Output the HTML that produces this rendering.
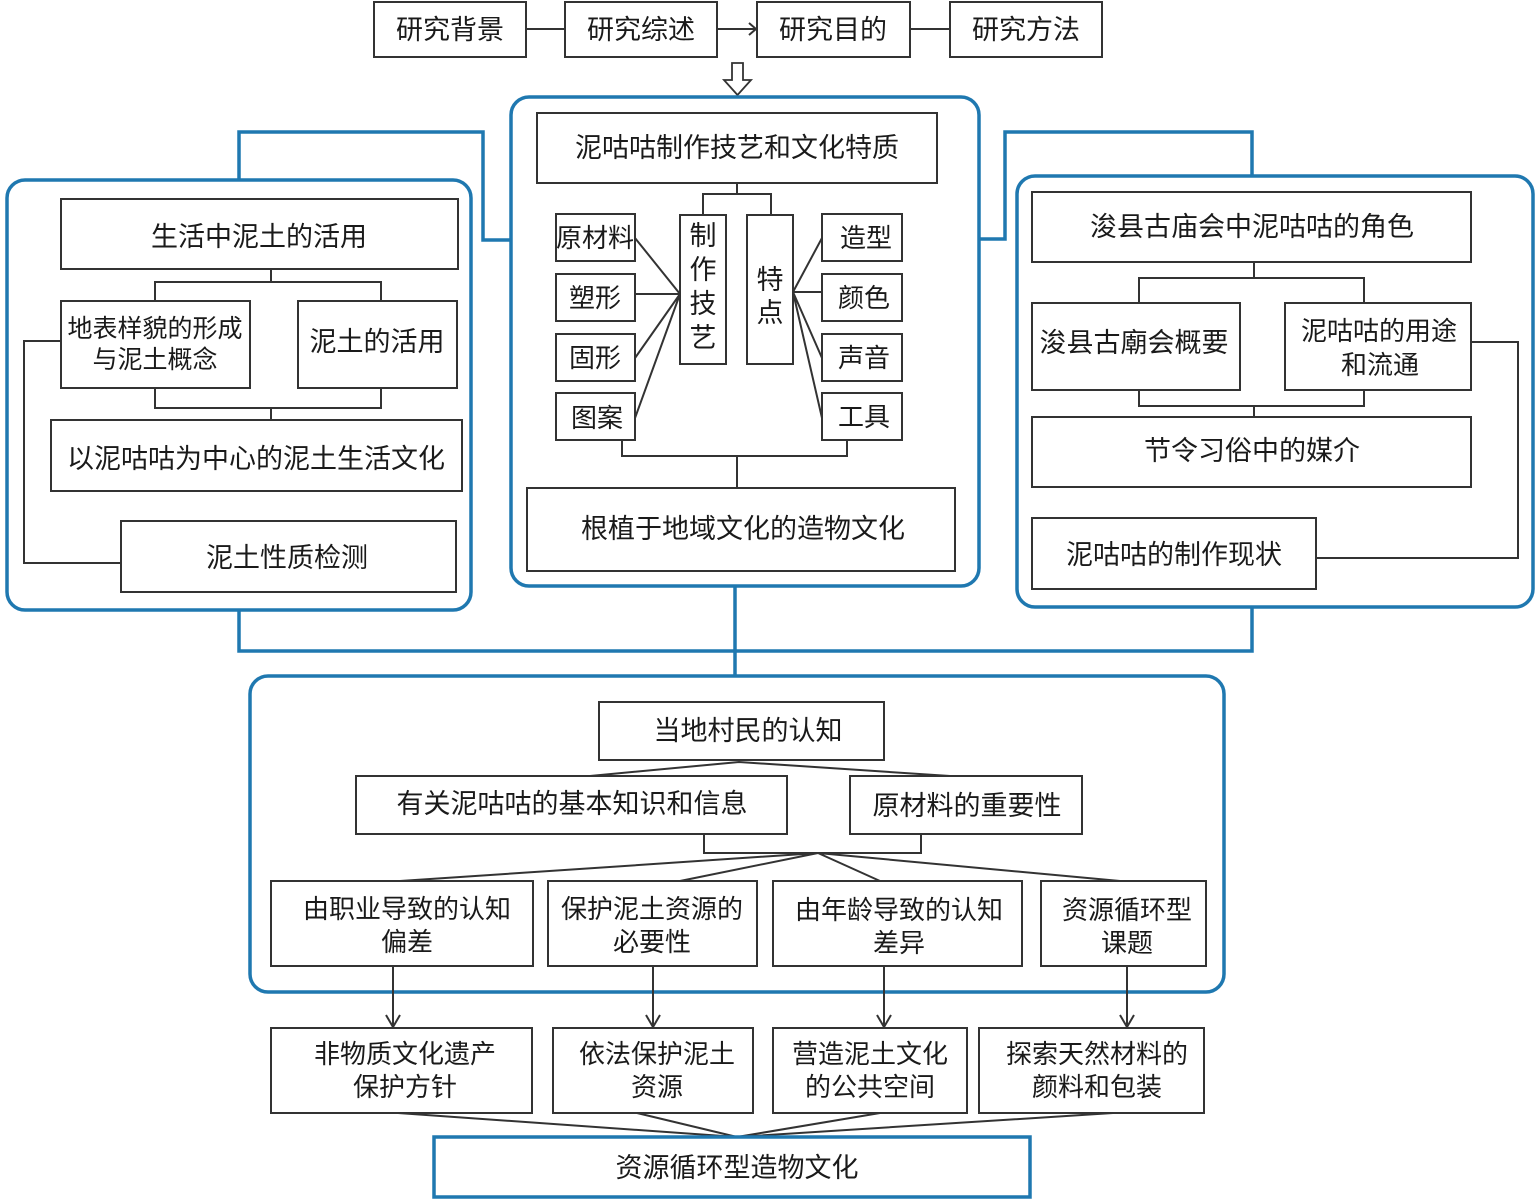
<!DOCTYPE html>
<html><head><meta charset="utf-8"><style>
html,body{margin:0;padding:0;background:#fff;}
svg{display:block;}
text{font-family:"Liberation Sans","Noto Sans CJK SC",sans-serif;fill:#1a1a1a;text-anchor:middle;dominant-baseline:central;}
.b{fill:#fff;stroke:#333;stroke-width:2;}
.l{fill:none;stroke:#333;stroke-width:2;}
.p{fill:none;stroke:#1f78b0;stroke-width:3.5;}
</style></head><body>
<svg width="1536" height="1200" viewBox="0 0 1536 1200" xmlns="http://www.w3.org/2000/svg">

<!-- top row -->
<rect class="b" x="374" y="2" width="152" height="55"/><text x="450" y="30" font-size="27">研究背景</text>
<rect class="b" x="565" y="2" width="152" height="55"/><text x="641" y="30" font-size="27">研究综述</text>
<rect class="b" x="757" y="2" width="153" height="55"/><text x="833" y="30" font-size="27">研究目的</text>
<rect class="b" x="950" y="2" width="152" height="55"/><text x="1026" y="30" font-size="27">研究方法</text>
<line class="l" x1="526" y1="29" x2="565" y2="29"/>
<line class="l" x1="717" y1="29" x2="756" y2="29"/>
<path class="l" d="M749,23 L756,29 L749,35" stroke-width="1.6"/>
<line class="l" x1="910" y1="29" x2="950" y2="29"/>
<path d="M732,63 H743 V80 H751 L737.5,95 L724,80 H732 Z" fill="#fff" stroke="#333" stroke-width="1.8"/>

<!-- blue connectors -->
<path class="p" d="M511,240 H483 V132 H239 V180"/>
<path class="p" d="M979,239 H1005 V132 H1252 V176"/>
<path class="p" d="M239,610 V651 H1252 V607"/>
<line class="p" x1="735" y1="586" x2="735" y2="676"/>

<!-- center panel -->
<rect class="p" x="511" y="97" width="468" height="489" rx="18"/>
<rect class="b" x="537" y="113" width="400" height="70"/><text x="737" y="148" font-size="27">泥咕咕制作技艺和文化特质</text>
<path class="l" d="M737,183 V194 M703,215 V194 H771 V215"/>
<rect class="b" x="680" y="215" width="46" height="149"/>
<text x="703" y="236" font-size="27">制</text><text x="703" y="270" font-size="27">作</text><text x="703" y="304" font-size="27">技</text><text x="703" y="338" font-size="27">艺</text>
<rect class="b" x="747" y="215" width="46" height="149"/>
<text x="770" y="280" font-size="27">特</text><text x="770" y="313" font-size="27">点</text>
<rect class="b" x="556" y="214" width="79" height="47"/><text x="595" y="238" font-size="26">原材料</text>
<rect class="b" x="556" y="274" width="79" height="47"/><text x="595" y="298" font-size="26">塑形</text>
<rect class="b" x="556" y="334" width="79" height="47"/><text x="595" y="358" font-size="26">固形</text>
<rect class="b" x="556" y="393" width="79" height="47"/><text x="597" y="418" font-size="26">图案</text>
<rect class="b" x="822" y="214" width="80" height="47"/><text x="866" y="238" font-size="26">造型</text>
<rect class="b" x="822" y="274" width="80" height="47"/><text x="864" y="298" font-size="26">颜色</text>
<rect class="b" x="822" y="334" width="80" height="47"/><text x="864" y="358" font-size="26">声音</text>
<rect class="b" x="822" y="393" width="80" height="47"/><text x="864" y="417" font-size="26">工具</text>
<path class="l" d="M635,238 L680,294 M635,294 L680,294 M635,358 L680,294 M635,418 L680,294"/>
<path class="l" d="M793,292 L822,238 M793,292 L822,292 M793,292 L822,358 M793,292 L822,418"/>
<path class="l" d="M622,440 V456 H847 V440 M737,456 V488"/>
<rect class="b" x="527" y="488" width="428" height="83"/><text x="743" y="529" font-size="27">根植于地域文化的造物文化</text>

<!-- left panel -->
<rect class="p" x="7" y="180" width="464" height="430" rx="18"/>
<rect class="b" x="61" y="199" width="397" height="70"/><text x="259" y="237" font-size="27">生活中泥土的活用</text>
<path class="l" d="M271,269 V282 M155,301 V282 H381 V301"/>
<rect class="b" x="61" y="301" width="189" height="87"/><text x="155" y="329" font-size="25">地表样貌的形成</text><text x="155" y="360" font-size="25">与泥土概念</text>
<rect class="b" x="298" y="301" width="159" height="87"/><text x="377" y="342" font-size="27">泥土的活用</text>
<path class="l" d="M155,388 V408 H381 V388 M271,408 V420"/>
<rect class="b" x="51" y="420" width="411" height="71"/><text x="256" y="459" font-size="27">以泥咕咕为中心的泥土生活文化</text>
<rect class="b" x="121" y="521" width="335" height="71"/><text x="287" y="558" font-size="27">泥土性质检测</text>
<path class="l" d="M61,341 H24 V563 H121"/>

<!-- right panel -->
<rect class="p" x="1017" y="176" width="516" height="431" rx="18"/>
<rect class="b" x="1032" y="192" width="439" height="70"/><text x="1252" y="227" font-size="27">浚县古庙会中泥咕咕的角色</text>
<path class="l" d="M1254,262 V278 M1139,303 V278 H1364 V303"/>
<rect class="b" x="1032" y="303" width="208" height="87"/><text x="1134" y="343" font-size="27">浚县古廟会概要</text>
<rect class="b" x="1285" y="303" width="186" height="87"/><text x="1379" y="331" font-size="26">泥咕咕的用途</text><text x="1380" y="365" font-size="26">和流通</text>
<path class="l" d="M1139,390 V406 H1364 V390 M1254,406 V417"/>
<rect class="b" x="1032" y="417" width="439" height="70"/><text x="1252" y="451" font-size="27">节令习俗中的媒介</text>
<rect class="b" x="1032" y="518" width="284" height="71"/><text x="1174" y="555" font-size="27">泥咕咕的制作现状</text>
<path class="l" d="M1471,342 H1518 V558 H1316"/>

<!-- bottom panel -->
<rect class="p" x="250" y="676" width="974" height="316" rx="18"/>
<rect class="b" x="599" y="702" width="285" height="58"/><text x="748" y="731" font-size="27">当地村民的认知</text>
<path class="l" d="M590,776 L739,762 L950,776"/>
<rect class="b" x="356" y="776" width="431" height="58"/><text x="572" y="804" font-size="27">有关泥咕咕的基本知识和信息</text>
<rect class="b" x="850" y="776" width="232" height="58"/><text x="967" y="806" font-size="27">原材料的重要性</text>
<path class="l" d="M704,834 V853 H921 V834"/>
<path class="l" d="M400,881 L818,853 L680,881 M818,853 L880,881 M818,853 L1120,881"/>
<rect class="b" x="271" y="881" width="262" height="85"/><text x="407" y="909" font-size="26">由职业导致的认知</text><text x="407" y="942" font-size="26">偏差</text>
<rect class="b" x="548" y="881" width="209" height="85"/><text x="652" y="909" font-size="26">保护泥土资源的</text><text x="652" y="942" font-size="26">必要性</text>
<rect class="b" x="773" y="881" width="249" height="85"/><text x="899" y="910" font-size="26">由年龄导致的认知</text><text x="899" y="943" font-size="26">差异</text>
<rect class="b" x="1041" y="881" width="165" height="85"/><text x="1127" y="910" font-size="26">资源循环型</text><text x="1127" y="943" font-size="26">课题</text>
<g class="l" stroke-width="1.6">
<path class="l" stroke-width="1.6" d="M393,966 V1027 M386,1015 L393,1027 L400,1015"/>
<path class="l" stroke-width="1.6" d="M653,966 V1027 M646,1015 L653,1027 L660,1015"/>
<path class="l" stroke-width="1.6" d="M884,966 V1027 M877,1015 L884,1027 L891,1015"/>
<path class="l" stroke-width="1.6" d="M1127,966 V1027 M1120,1015 L1127,1027 L1134,1015"/>
</g>
<rect class="b" x="271" y="1028" width="261" height="85"/><text x="405" y="1054" font-size="26">非物质文化遗产</text><text x="405" y="1087" font-size="26">保护方针</text>
<rect class="b" x="553" y="1028" width="200" height="85"/><text x="657" y="1054" font-size="26">依法保护泥土</text><text x="657" y="1087" font-size="26">资源</text>
<rect class="b" x="773" y="1028" width="194" height="85"/><text x="870" y="1054" font-size="26">营造泥土文化</text><text x="870" y="1087" font-size="26">的公共空间</text>
<rect class="b" x="979" y="1028" width="225" height="85"/><text x="1097" y="1054" font-size="26">探索天然材料的</text><text x="1097" y="1087" font-size="26">颜料和包装</text>
<path class="l" d="M398,1113 L737,1137 L637,1113 M737,1137 L880,1113 M737,1137 L1113,1113"/>
<rect x="434" y="1137" width="596" height="60" fill="#fff" stroke="#1f78b0" stroke-width="3.5"/><text x="737" y="1168" font-size="27">资源循环型造物文化</text>
</svg>
</body></html>
